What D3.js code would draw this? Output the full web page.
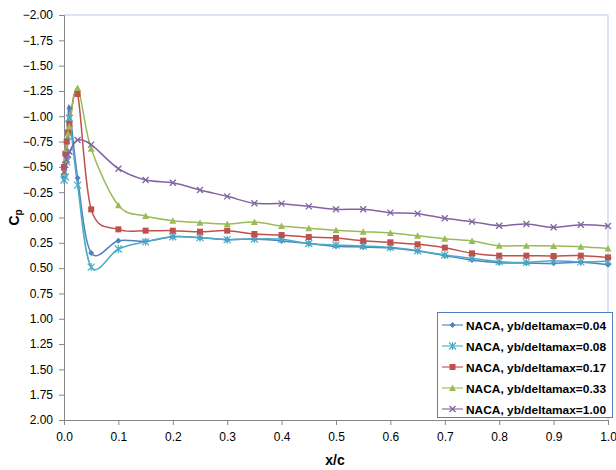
<!DOCTYPE html>
<html><head><meta charset="utf-8">
<script src="https://cdn.jsdelivr.net/npm/d3@7"></script>
<style>body{margin:0;background:#fff;} svg{display:block;}</style>
</head><body>
<svg id="c" width="616" height="470"></svg>
<script>
const xVals = [0, 0.0025, 0.005, 0.0075, 0.01, 0.025, 0.05, 0.1, 0.15, 0.2, 0.25, 0.3, 0.35, 0.4, 0.45, 0.5, 0.55, 0.6, 0.65, 0.7, 0.75, 0.8, 0.85, 0.9, 0.95, 1.0];
const cp004 = [-0.40, -0.55, -0.75, -0.95, -1.08, -0.39, 0.35, 0.229, 0.235, 0.19, 0.199, 0.219, 0.212, 0.232, 0.257, 0.285, 0.291, 0.301, 0.331, 0.377, 0.42, 0.446, 0.449, 0.453, 0.443, 0.466];
const cp008 = [-0.37, -0.40, -0.55, -0.80, -0.98, -0.32, 0.49, 0.311, 0.24, 0.19, 0.199, 0.219, 0.212, 0.215, 0.257, 0.272, 0.281, 0.295, 0.328, 0.370, 0.403, 0.436, 0.443, 0.426, 0.439, 0.430];
const cp017 = [-0.50, -0.63, -0.75, -0.84, -0.92, -1.22, -0.08, 0.117, 0.13, 0.130, 0.140, 0.130, 0.163, 0.173, 0.193, 0.202, 0.229, 0.245, 0.265, 0.298, 0.354, 0.377, 0.377, 0.380, 0.377, 0.394];
const cp033 = [-0.44, -0.57, -0.68, -0.83, -0.90, -1.28, -0.68, -0.12, -0.015, 0.031, 0.051, 0.064, 0.044, 0.084, 0.107, 0.127, 0.140, 0.153, 0.180, 0.209, 0.232, 0.278, 0.278, 0.281, 0.288, 0.305];
const cp100 = [-0.45, -0.52, -0.57, -0.62, -0.65, -0.765, -0.72, -0.482, -0.37, -0.344, -0.272, -0.209, -0.140, -0.137, -0.110, -0.081, -0.081, -0.048, -0.038, 0.008, 0.041, 0.081, 0.064, 0.097, 0.071, 0.084];
const seriesNames = ["NACA, yb/deltamax=0.04", "NACA, yb/deltamax=0.08", "NACA, yb/deltamax=0.17", "NACA, yb/deltamax=0.33", "NACA, yb/deltamax=1.00"];
const seriesColors = ["#4F81BD", "#4BACC6", "#C0504D", "#9BBB59", "#8064A2"];
const seriesMarkers = ["diamond", "asterisk", "square", "triangle", "x"];
const xTicks = [0, 0.1, 0.2, 0.3, 0.4, 0.5, 0.6, 0.7, 0.8, 0.9, 1.0];
const yTicks = [-2, -1.75, -1.5, -1.25, -1, -0.75, -0.5, -0.25, 0, 0.25, 0.5, 0.75, 1, 1.25, 1.5, 1.75, 2];

const allY = [cp004, cp008, cp017, cp033, cp100];
const svg = d3.select("#c");
const L = 64, R = 608, T = 15, B = 420;
const x = d3.scaleLinear().domain([0, 1]).range([L, R]);
const y = d3.scaleLinear().domain([-2, 2]).range([T, B]);
const font = "'Liberation Sans', Arial, sans-serif";

// plot area border (top/right)
svg.append("path").attr("d", `M${L},${T}H${R}V${B}`).attr("fill", "none").attr("stroke", "#B9CDE5").attr("stroke-width", 1);

// axes
const yAxis = d3.axisLeft(y).tickValues(yTicks).tickSize(5).tickPadding(6).tickFormat(d3.format(".2f"));
const gy = svg.append("g").attr("transform", `translate(${L},0)`).call(yAxis);
const xAxis = d3.axisBottom(x).tickValues(xTicks).tickSize(5).tickPadding(7).tickFormat(d3.format(".1f"));
const gx = svg.append("g").attr("transform", `translate(0,${B})`).call(xAxis);
[gx, gy].forEach(g => {
  g.selectAll(".domain").attr("stroke", "#868686");
  g.selectAll(".tick line").attr("stroke", "#868686");
  g.selectAll("text").attr("font-family", font).attr("font-size", 12).attr("fill", "#000");
});

// titles
svg.append("text").attr("x", x(0.5) - 1).attr("y", 465).attr("text-anchor", "middle")
  .attr("font-family", font).attr("font-size", 14).attr("font-weight", "bold").text("x/c");
const yt = svg.append("text").attr("transform", `translate(19,${y(0)}) rotate(-90)`).attr("text-anchor", "middle")
  .attr("font-family", font).attr("font-size", 14).attr("font-weight", "bold");
yt.append("tspan").text("C");
yt.append("tspan").attr("font-size", 10).attr("dy", 3).text("p");

// marker drawer
function marker(g, type, color, cx, cy) {
  const s = 3;
  if (type === "diamond") {
    g.append("path").attr("d", `M${cx},${cy-s}L${cx+s},${cy}L${cx},${cy+s}L${cx-s},${cy}Z`).attr("fill", color);
  } else if (type === "square") {
    g.append("rect").attr("x", cx-3).attr("y", cy-3).attr("width", 6).attr("height", 6).attr("fill", color);
  } else if (type === "triangle") {
    g.append("path").attr("d", `M${cx},${cy-3.5}L${cx+3.5},${cy+3}L${cx-3.5},${cy+3}Z`).attr("fill", color);
  } else if (type === "asterisk") {
    g.append("path").attr("d", `M${cx-3.5},${cy-3.5}L${cx+3.5},${cy+3.5}M${cx-3.5},${cy+3.5}L${cx+3.5},${cy-3.5}M${cx},${cy-4}V${cy+4}`)
      .attr("stroke", color).attr("stroke-width", 1.2).attr("fill", "none");
  } else if (type === "x") {
    g.append("path").attr("d", `M${cx-3},${cy-3}L${cx+3},${cy+3}M${cx-3},${cy+3}L${cx+3},${cy-3}`)
      .attr("stroke", color).attr("stroke-width", 1.3).attr("fill", "none");
  }
}

const line = d3.line().x(d => x(d[0])).y(d => y(d[1])).curve(d3.curveCardinal.tension(0));
const plot = svg.append("g");
allY.forEach((vals, i) => {
  const pts = xVals.map((xv, j) => [xv, vals[j]]);
  plot.append("path").attr("d", line(pts)).attr("fill", "none").attr("stroke", seriesColors[i]).attr("stroke-width", 1.5);
});
allY.forEach((vals, i) => {
  const g = plot.append("g");
  xVals.forEach((xv, j) => marker(g, seriesMarkers[i], seriesColors[i], x(xv), y(vals[j])));
});

// legend
const lg = svg.append("g");
lg.append("rect").attr("x", 437.5).attr("y", 312.5).attr("width", 175).attr("height", 105)
  .attr("fill", "#fff").attr("stroke", "#4F81BD").attr("stroke-width", 1);
seriesNames.forEach((n, i) => {
  const yy = 325 + i * 21;
  lg.append("line").attr("x1", 442).attr("x2", 463).attr("y1", yy).attr("y2", yy).attr("stroke", seriesColors[i]).attr("stroke-width", 1.5).attr("stroke-opacity", 0.75);
  marker(lg, seriesMarkers[i], seriesColors[i], 452.5, yy);
  lg.append("text").attr("x", 466).attr("y", yy + 4.5).attr("font-family", font).attr("font-size", 11.8)
    .attr("font-weight", "bold").attr("textLength", 140).attr("lengthAdjust", "spacingAndGlyphs").text(n);
});
</script>
</body></html>
